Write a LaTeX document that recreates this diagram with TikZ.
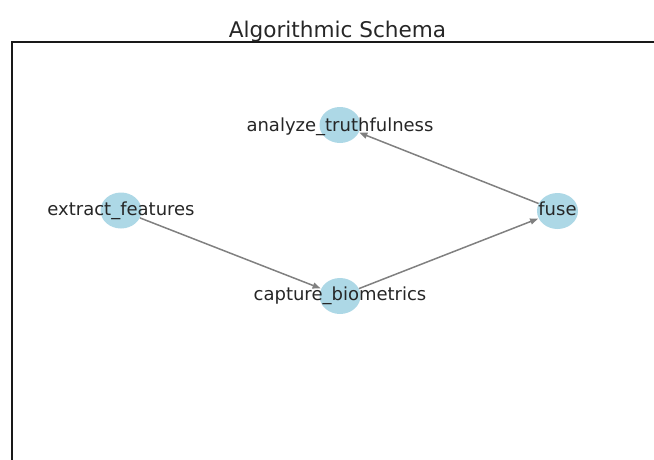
\documentclass[tikz,border=0pt]{standalone}
\usepackage{fontspec}
\setmainfont{DejaVu Sans}
\usetikzlibrary{shapes.geometric,arrows.meta}
\definecolor{nodeblue}{HTML}{ADD8E6}
\newcommand{\myedgegray}{black!50}

\begin{document}
\begin{tikzpicture}[x=1pt,y=-1pt,
  vtx/.style={ellipse, draw=none, fill=nodeblue, minimum width=41pt, minimum height=36pt, inner sep=0pt},
  lbl/.style={anchor=base, inner sep=0pt, text=black!85, font=\fontsize{18}{21}\selectfont},
  edge/.style={draw=\myedgegray, line width=1.5pt, -{Triangle[length=8pt,width=6pt]}, shorten >=0.5pt}]
\useasboundingbox (0,0) rectangle (654,459);
\begin{scope}
\draw[line width=1.2pt, black!90] (12,459.5) -- (12,42) -- (654.5,42);
\node[anchor=base, inner sep=0pt, text=black!85, font=\fontsize{21.6}{24}\selectfont] (title) at (337.5,37) {Algorithmic Schema};
\node[vtx] (ana) at (340,125) {};
\node[vtx] (ext) at (121,210.5) {};
\node[vtx] (fus) at (557.5,211) {};
\node[vtx] (cap) at (340,296) {};
\draw[edge] (ext) -- (cap);
\draw[edge] (cap) -- (fus);
\draw[edge] (fus) -- (ana);
\node[lbl] (anatext) at ([yshift=-6pt]ana.center) {analyze\_truthfulness};
\node[lbl] (exttext) at ([yshift=-5pt]ext.center) {extract\_features};
\node[lbl] (fustext) at ([yshift=-4.5pt]fus.center) {fuse};
\node[lbl] (captext) at ([yshift=-4.5pt]cap.center) {capture\_biometrics};
\end{scope}
\end{tikzpicture}
\end{document}
